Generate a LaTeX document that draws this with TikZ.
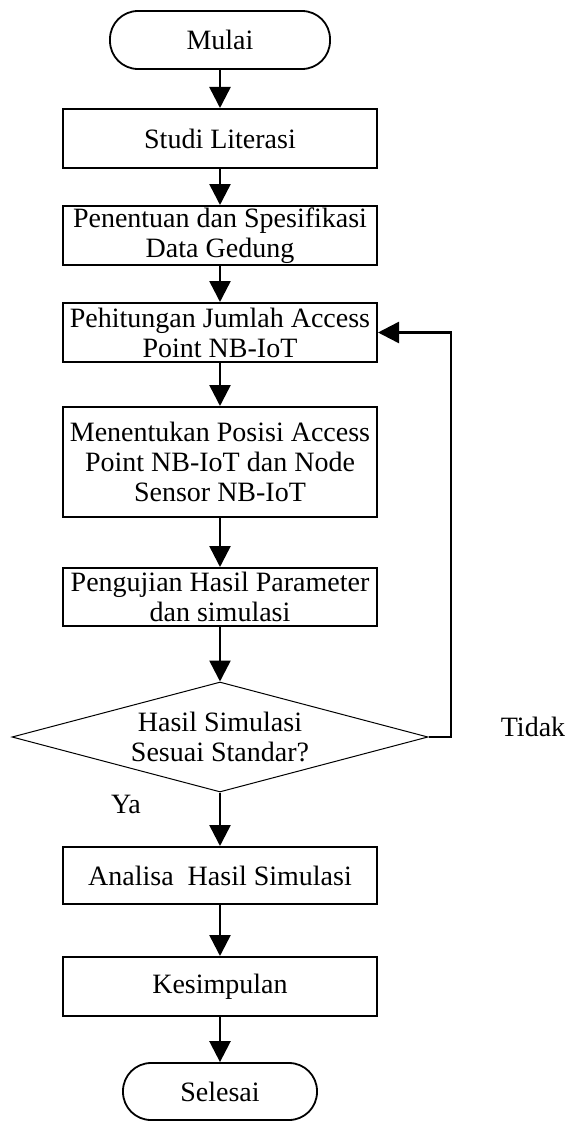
\documentclass[tikz,border=0pt]{standalone}
\usepackage{fontspec}
\setmainfont{Liberation Serif}
\usetikzlibrary{shapes.geometric,arrows.meta}
\begin{document}
\begin{tikzpicture}[x=1pt,y=-1pt,
  every node/.style={font=\fontsize{28}{30}\selectfont},
  procbox/.style={draw, line width=2pt, fill=white, minimum width=314pt, inner sep=0pt, align=center},
  termbox/.style={draw, line width=1.8pt, fill=white, rounded corners=28pt, inner sep=0pt},
  decbox/.style={draw, line width=1pt, diamond, aspect=3.78, minimum width=416pt, minimum height=110pt, inner sep=0pt, align=center},
  flow/.style={line width=2.5pt, -{Triangle[length=21pt,width=21pt]}},
  lbl/.style={inner sep=0pt}
]
\useasboundingbox (0,0) rectangle (568,1121);
\node[termbox, minimum width=220pt, minimum height=58pt] (mulai) at (220,40) {Mulai};
\node[procbox, minimum height=59pt] (studi) at (220,138.5) {Studi Literasi};
\node[procbox, minimum height=59pt] (penentuan) at (220,235.5) {Penentuan dan Spesifikasi\\Data Gedung};
\node[procbox, minimum height=59pt] (pehitungan) at (220,332.5) {Pehitungan Jumlah Access\\Point NB-IoT};
\node[procbox, minimum height=110pt] (menentukan) at (220,462) {Menentukan Posisi Access\\Point NB-IoT dan Node\\Sensor NB-IoT};
\node[procbox, minimum height=58pt] (pengujian) at (220,597) {Pengujian Hasil Parameter\\dan simulasi};
\node[decbox] (dec) at (220,737) {Hasil Simulasi\\Sesuai Standar?};
\node[procbox, minimum height=57pt] (analisa) at (220,875.5) {Analisa\ \ Hasil Simulasi};
\node[procbox, minimum height=59pt] (kesimpulan) at (220,986.5) {Kesimpulan};
\node[termbox, minimum width=194pt, minimum height=57pt] (selesai) at (220,1091.5) {Selesai};
\node[lbl] (ya) at (126,804) {Ya};
\node[lbl] (tidak) at (533,727) {Tidak};
\coordinate (fb) at (451,737);
\draw[flow] (mulai) -- (studi);
\draw[flow] (studi) -- (penentuan);
\draw[flow] (penentuan) -- (pehitungan);
\draw[flow] (pehitungan) -- (menentukan);
\draw[flow] (menentukan) -- (pengujian);
\draw[flow] (pengujian) -- (dec.north);
\draw[flow] (dec.south) -- (analisa);
\draw[flow] (analisa) -- (kesimpulan);
\draw[flow] (kesimpulan) -- (selesai);
\draw[flow] (dec.east) -- (fb) |- (pehitungan.east);
\end{tikzpicture}
\end{document}
